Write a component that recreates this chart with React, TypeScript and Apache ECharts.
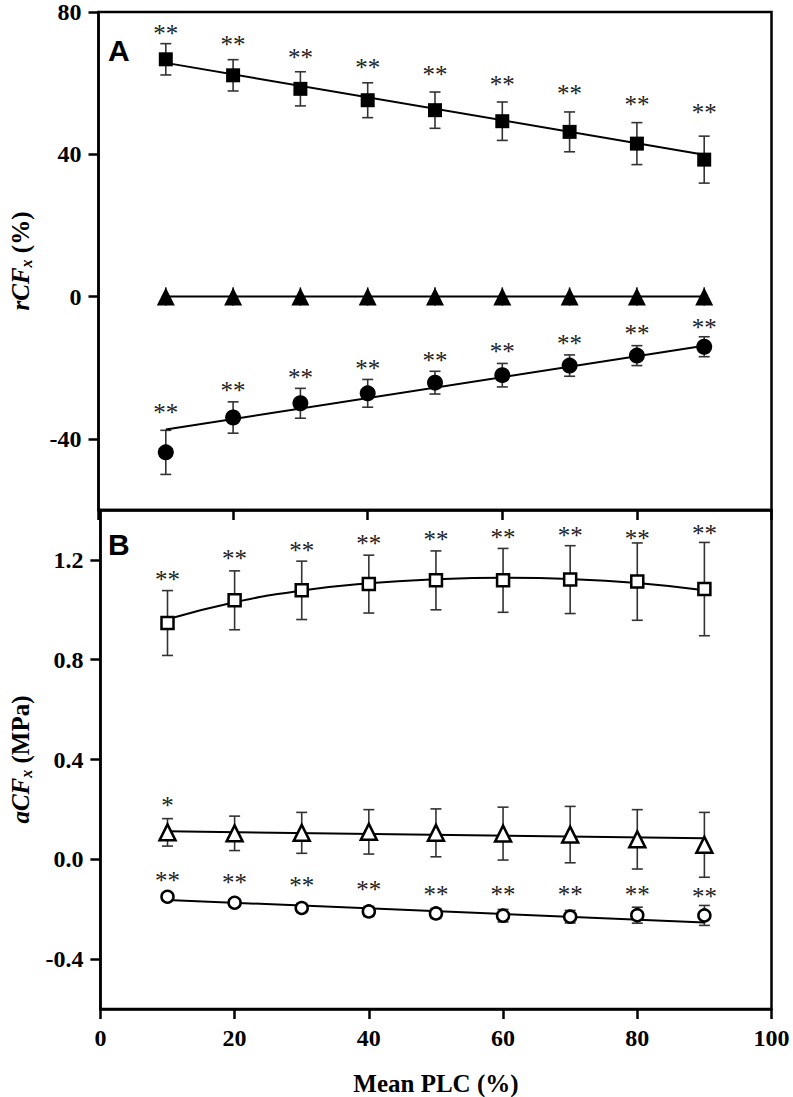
import React, { useEffect, useRef } from "react";
import * as echarts from "echarts";

// ---------- data ----------
const xVals = [10, 20, 30, 40, 50, 60, 70, 80, 90];
const fitX2 = [10, 90];

// Panel A: rCFx (%)
const aSquare = [66.7, 62.2, 58.4, 55.2, 52.4, 49.3, 46.3, 43.0, 38.5];
const aSquareErr = [4.4, 4.4, 4.8, 4.9, 5.1, 5.4, 5.6, 5.9, 6.6];
const aSquareStar = [75.4, 72.3, 68.7, 65.7, 63.7, 61.0, 58.4, 55.4, 53.1];
const aSquareFit = [65.7, 39.9];

const aTriangle = [0, 0, 0, 0, 0, 0, 0, 0, 0];
const aTriangleErr = [2.6, 2.6, 2.6, 2.6, 2.6, 2.6, 2.6, 2.6, 2.6];
const aTriangleFit = [0, 0];

const aCircle = [-43.8, -34.0, -30.0, -27.2, -24.2, -22.1, -19.4, -16.6, -14.1];
const aCircleErr = [6.2, 4.4, 4.2, 3.9, 3.2, 3.3, 3.0, 2.8, 2.8];
const aCircleStar = [-31.3, -24.9, -21.4, -18.8, -16.5, -13.9, -11.7, -9.1, -7.3];
const aCircleFit = [-37.4, -13.8];

// Panel B: aCFx (MPa)
const bSquare = [0.947, 1.038, 1.078, 1.103, 1.118, 1.118, 1.121, 1.113, 1.083];
const bSquareErr = [0.13, 0.118, 0.117, 0.116, 0.118, 0.128, 0.136, 0.155, 0.187];
const bSquareStar = [1.141, 1.224, 1.257, 1.284, 1.301, 1.311, 1.319, 1.304, 1.324];
const bSquareFit = [0.962, 1.03, 1.077, 1.106, 1.122, 1.128, 1.123, 1.107, 1.078];

const bTriangle = [0.108, 0.104, 0.106, 0.11, 0.106, 0.103, 0.099, 0.08, 0.058];
const bTriangleErr = [0.055, 0.069, 0.082, 0.089, 0.096, 0.106, 0.113, 0.119, 0.13];
const bTriangleStarX = [10];
const bTriangleStar = [0.235];
const bTriangleFit = [0.112, 0.084];

const bCircle = [-0.15, -0.174, -0.195, -0.209, -0.217, -0.226, -0.23, -0.224, -0.225];
const bCircleErr = [0.015, 0.015, 0.018, 0.02, 0.02, 0.025, 0.025, 0.032, 0.04];
const bCircleStar = [-0.063, -0.072, -0.086, -0.103, -0.12, -0.123, -0.123, -0.12, -0.13];
const bCircleFit = [-0.163, -0.253];

const xTicks = [0, 20, 40, 60, 80, 100];
const aTicks = [-40, 0, 40, 80];
const bTicks = [-0.4, 0, 0.4, 0.8, 1.2];

// ---------- helpers ----------
const SERIF = "'Liberation Serif', 'Times New Roman', serif";
const AXIS_W = 2.5;

function errSeries(xs: number[], ys: number[], es: number[], gi: number, cap: number) {
  return {
    type: "custom",
    xAxisIndex: gi,
    yAxisIndex: gi,
    z: 1,
    silent: true,
    data: xs.map((x, i) => [x, ys[i], es[i]]),
    encode: { x: 0, y: 1 },
    renderItem: (params: any, api: any) => {
      const x = api.value(0);
      const y = api.value(1);
      const e = api.value(2);
      const hi = api.coord([x, y + e]);
      const lo = api.coord([x, y - e]);
      const st = { stroke: "#333", lineWidth: 1.6 };
      const children: any[] = [
        { type: "line", shape: { x1: hi[0], y1: hi[1], x2: lo[0], y2: lo[1] }, style: st },
      ];
      if (cap > 0) {
        children.push({ type: "line", shape: { x1: hi[0] - cap, y1: hi[1], x2: hi[0] + cap, y2: hi[1] }, style: st });
        children.push({ type: "line", shape: { x1: lo[0] - cap, y1: lo[1], x2: lo[0] + cap, y2: lo[1] }, style: st });
      }
      return { type: "group", children };
    },
  };
}

function fitSeries(xs: number[], ys: number[], gi: number, smooth = false) {
  return {
    type: "line",
    xAxisIndex: gi,
    yAxisIndex: gi,
    z: 2,
    silent: true,
    smooth,
    showSymbol: false,
    symbol: "none",
    data: xs.map((x, i) => [x, ys[i]]),
    lineStyle: { color: "#000", width: 2 },
  };
}

function markerSeries(xs: number[], ys: number[], gi: number, symbol: string, size: number, filled: boolean) {
  return {
    type: "scatter",
    xAxisIndex: gi,
    yAxisIndex: gi,
    z: 3,
    silent: true,
    symbol,
    symbolSize: size,
    data: xs.map((x, i) => [x, ys[i]]),
    itemStyle: filled
      ? { color: "#000", borderColor: "#000", borderWidth: 0, opacity: 1 }
      : { color: "#fff", borderColor: "#000", borderWidth: 2.5, opacity: 1 },
  };
}

function starSeries(xs: number[], ys: number[], gi: number, txt: string) {
  return {
    type: "custom",
    xAxisIndex: gi,
    yAxisIndex: gi,
    z: 4,
    silent: true,
    data: xs.map((x, i) => [x, ys[i]]),
    encode: { x: 0, y: 1 },
    renderItem: (params: any, api: any) => {
      const p = api.coord([api.value(0), api.value(1)]);
      return {
        type: "text",
        x: p[0],
        y: p[1] + 5,
        style: {
          text: txt,
          fontFamily: SERIF,
          fontSize: 25,
          fill: "#222",
          align: "center",
          verticalAlign: "middle",
        },
      };
    },
  };
}

const labelStyle = {
  fontFamily: SERIF,
  fontSize: 24,
  fontWeight: "bold",
  color: "#000",
};

function yName(main: string, unit: string) {
  return `{i|${main}}{s|x}{n| ${unit}}`;
}

const yNameStyle = {
  fontFamily: SERIF,
  fontSize: 25,
  fontWeight: "bold",
  color: "#000",
  rich: {
    i: { fontFamily: SERIF, fontSize: 25, fontWeight: "bold", fontStyle: "italic", lineHeight: 28, color: "#000" },
    s: { fontFamily: SERIF, fontSize: 16, fontWeight: "bold", fontStyle: "italic", lineHeight: 16, verticalAlign: "bottom", color: "#000" },
    n: { fontFamily: SERIF, fontSize: 25, fontWeight: "bold", lineHeight: 28, color: "#000" },
  },
};

export default function App() {
  const ref = useRef<HTMLDivElement>(null);

  useEffect(() => {
    if (!ref.current) return;
    const chart = echarts.init(ref.current, undefined, { renderer: "svg" });

    const gridLeft = 97.5;
    const gridW = 674;

    const option: any = {
      animation: false,
      backgroundColor: "#fff",
      textStyle: { fontFamily: SERIF },
      grid: [
        { left: gridLeft, top: 12, width: gridW, height: 498, show: true, borderColor: "#000", borderWidth: AXIS_W, backgroundColor: "transparent" },
        { left: gridLeft, top: 510, width: gridW, height: 499, show: true, borderColor: "#000", borderWidth: AXIS_W, backgroundColor: "transparent" },
      ],
      xAxis: [
        {
          type: "value",
          gridIndex: 0,
          min: 0,
          max: 100,
          interval: 20,
          axisLine: { show: true, onZero: false, lineStyle: { color: "#000", width: AXIS_W } },
          axisTick: { show: true, inside: false, length: 10, lineStyle: { color: "#000", width: AXIS_W } },
          axisLabel: { show: false },
          splitLine: { show: false },
        },
        {
          type: "value",
          gridIndex: 1,
          min: 0,
          max: 100,
          interval: 20,
          name: "Mean PLC (%)",
          nameLocation: "middle",
          nameGap: 62,
          nameTextStyle: { fontFamily: SERIF, fontSize: 25, fontWeight: "bold", color: "#000" },
          axisLine: { show: true, onZero: false, lineStyle: { color: "#000", width: AXIS_W } },
          axisTick: { show: true, inside: false, length: 10, lineStyle: { color: "#000", width: AXIS_W } },
          axisLabel: { ...labelStyle, margin: 17, formatter: (v: number) => (xTicks.includes(v) ? String(v) : "") },
          splitLine: { show: false },
        },
      ],
      yAxis: [
        {
          type: "value",
          gridIndex: 0,
          min: -60,
          max: 80,
          name: yName("rCF", "(%)"),
          nameLocation: "middle",
          nameGap: 64,
          nameTextStyle: yNameStyle,
          axisLine: { show: true, onZero: false, lineStyle: { color: "#000", width: AXIS_W } },
          axisTick: { show: true, inside: false, length: 10, customValues: aTicks, lineStyle: { color: "#000", width: AXIS_W } },
          axisLabel: { ...labelStyle, margin: 17, customValues: aTicks, formatter: (v: number) => String(v) },
          splitLine: { show: false },
        },
        {
          type: "value",
          gridIndex: 1,
          min: -0.6,
          max: 1.4,
          name: yName("aCF", "(MPa)"),
          nameLocation: "middle",
          nameGap: 64,
          nameTextStyle: yNameStyle,
          axisLine: { show: true, onZero: false, lineStyle: { color: "#000", width: AXIS_W } },
          axisTick: { show: true, inside: false, length: 10, customValues: bTicks, lineStyle: { color: "#000", width: AXIS_W } },
          axisLabel: { ...labelStyle, margin: 17, customValues: bTicks, formatter: (v: number) => v.toFixed(1) },
          splitLine: { show: false },
        },
      ],
      graphic: [
        { type: "text", left: 108, top: 35, style: { text: "A", fontFamily: "'Liberation Sans', Arial, sans-serif", fontWeight: "bold", fontSize: 30, fill: "#000" } },
        { type: "text", left: 108, top: 529, style: { text: "B", fontFamily: "'Liberation Sans', Arial, sans-serif", fontWeight: "bold", fontSize: 30, fill: "#000" } },
      ],
      series: [
        // Panel A
        errSeries(xVals, aSquare, aSquareErr, 0, 5.5),
        errSeries(xVals, aTriangle, aTriangleErr, 0, 0),
        errSeries(xVals, aCircle, aCircleErr, 0, 5.5),
        fitSeries(fitX2, aSquareFit, 0),
        fitSeries(fitX2, aTriangleFit, 0),
        fitSeries(fitX2, aCircleFit, 0),
        markerSeries(xVals, aSquare, 0, "rect", 14, true),
        markerSeries(xVals, aTriangle, 0, "triangle", 18, true),
        markerSeries(xVals, aCircle, 0, "circle", 16, true),
        starSeries(xVals, aSquareStar, 0, "**"),
        starSeries(xVals, aCircleStar, 0, "**"),
        // Panel B
        errSeries(xVals, bSquare, bSquareErr, 1, 5.5),
        errSeries(xVals, bTriangle, bTriangleErr, 1, 5.5),
        errSeries(xVals, bCircle, bCircleErr, 1, 5.5),
        fitSeries(xVals, bSquareFit, 1, true),
        fitSeries(fitX2, bTriangleFit, 1),
        fitSeries(fitX2, bCircleFit, 1),
        markerSeries(xVals, bSquare, 1, "rect", 12, false),
        markerSeries(xVals, bTriangle, 1, "triangle", 16, false),
        markerSeries(xVals, bCircle, 1, "circle", 12, false),
        starSeries(xVals, bSquareStar, 1, "**"),
        starSeries(bTriangleStarX, bTriangleStar, 1, "*"),
        starSeries(xVals, bCircleStar, 1, "**"),
      ],
    };

    chart.setOption(option);
    return () => chart.dispose();
  }, []);

  return (
    <div
      ref={ref}
      style={{ position: "absolute", left: 0, top: 0, width: 793, height: 1097, background: "#fff" }}
    />
  );
}
